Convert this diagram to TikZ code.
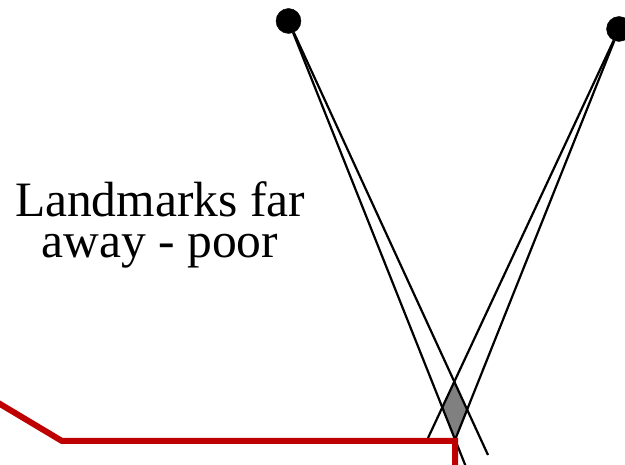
\documentclass[tikz,border=0pt]{standalone}
\usepackage{fontspec}
\setmainfont{Liberation Serif}
\usetikzlibrary{positioning, calc}

\begin{document}
\begin{tikzpicture}[
    x=1pt,y=-1pt,
    landmark/.style={draw, circle, fill=black, inner sep=0pt, minimum size=25pt},
    bearing/.style={line width=2.2pt},
    overlap/.style={fill=black!50},
    robotpath/.style={draw=red!75!black, line width=6pt},
    caption/.style={align=center, inner sep=0pt, font=\fontsize{49.5}{41}\selectfont}
]
    \clip (0,0) rectangle (625,465);

    % --- Landmarks ---
    \node[landmark] (LM1) at (288.5,21) {};
    \node[landmark] (LM2) at (619,29) {};

    % --- Ends of the bearing lines ---
    \coordinate (e1a) at (466,467);
    \coordinate (e1b) at (488,455);
    \coordinate (e2a) at (428,438);
    \coordinate (e2b) at (455,440);

    % --- Uncertainty region ---
    \fill[overlap] (intersection of LM1--e1b and LM2--e2a)
        -- (intersection of LM1--e1a and LM2--e2a)
        -- (intersection of LM1--e1a and LM2--e2b)
        -- (intersection of LM1--e1b and LM2--e2b) -- cycle;

    % --- Bearings ---
    \draw[bearing] (LM1) -- (e1a);
    \draw[bearing] (LM1) -- (e1b);
    \draw[bearing] (LM2) -- (e2a);
    \draw[bearing] (LM2) -- (e2b);

    % --- Robot path ---
    \coordinate (p0) at (-5,401);
    \coordinate (p1) at (62,441);
    \coordinate (p2) at (455,441);
    \coordinate (p3) at (455,470);
    \draw[robotpath] (p0) -- (p1) -- (p2) -- (p3);

    % --- Label ---
    \node[caption] (note) at (160,225.2) {Landmarks far\\away - poor};

\end{tikzpicture}
\end{document}
